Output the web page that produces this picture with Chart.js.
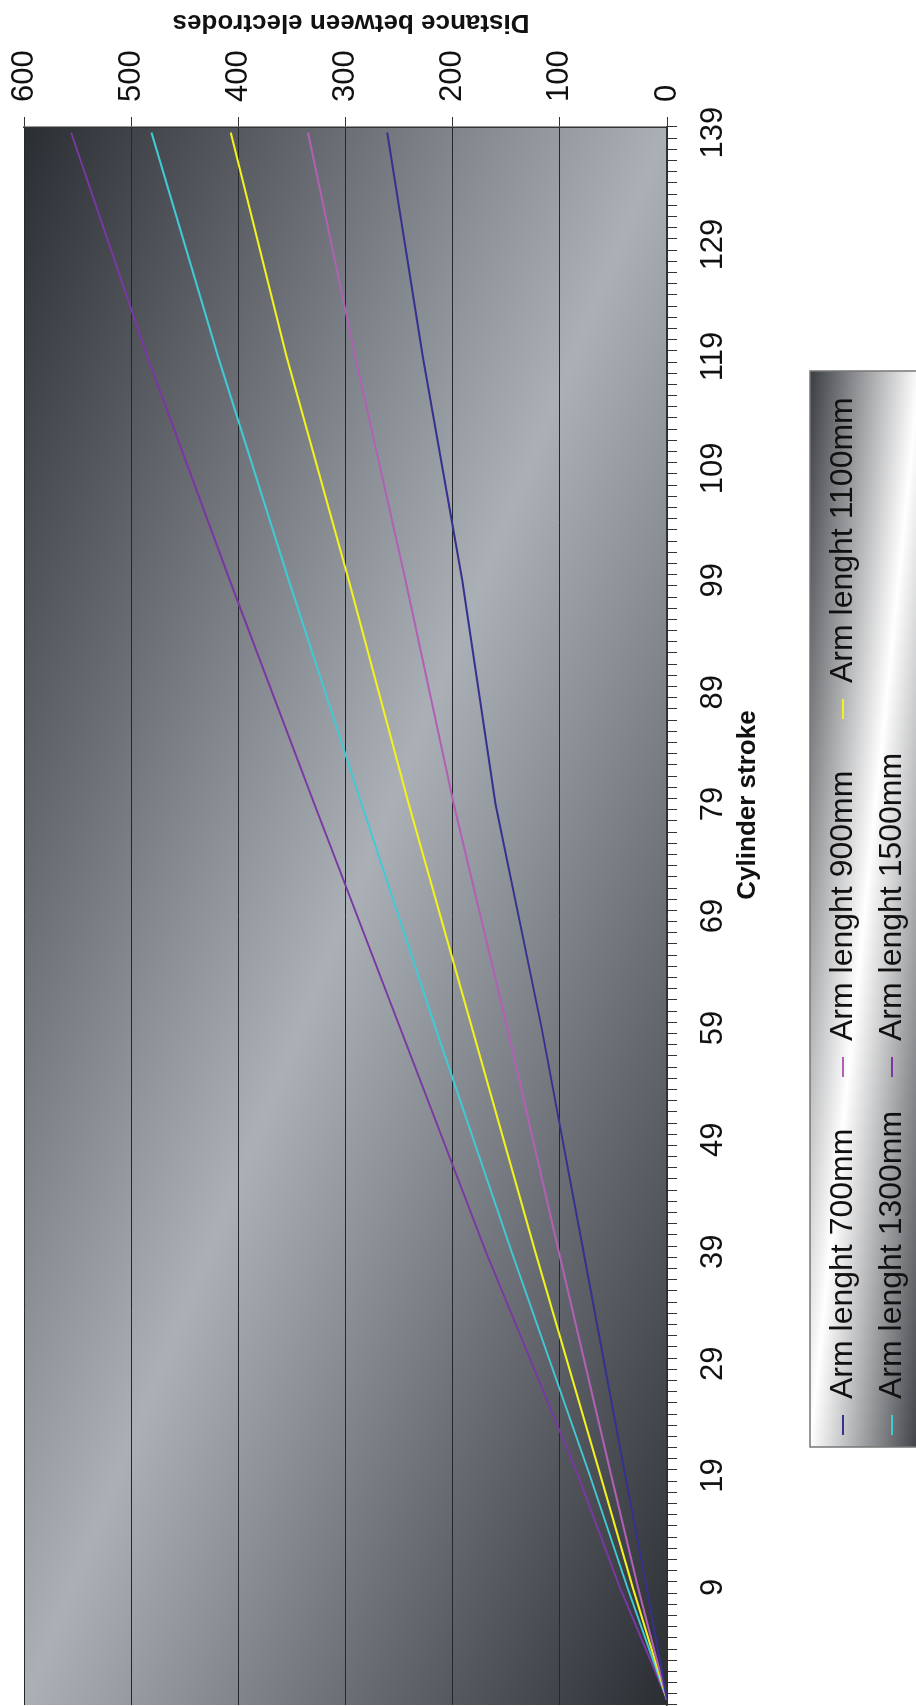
<!DOCTYPE html>
<html>
<head>
<meta charset="utf-8">
<script src="https://cdn.jsdelivr.net/npm/chart.js@4.4.1/dist/chart.umd.min.js"></script>
<style>
  html, body { margin: 0; padding: 0; background: #fff; overflow: hidden; }
  #wrap {
    position: absolute; left: 0; top: 0;
    width: 1706px; height: 916px;
    transform-origin: 0 0;
    transform: translate(0, 1706px) rotate(-90deg);
  }
</style>
</head>
<body>
<div id="wrap"><canvas id="strokeChart" width="1706" height="916"></canvas></div>
<script>
// cylinder stroke positions where the curves were read
var strokes = [-1, 9, 19, 39, 59, 79, 99, 119, 139];
var strokeLabels = [9, 19, 29, 39, 49, 59, 69, 79, 89, 99, 109, 119, 129, 139];
var distanceTicks = [0, 100, 200, 300, 400, 500, 600];

var seriesNames = ['Arm lenght 700mm', 'Arm lenght 900mm', 'Arm lenght 1100mm', 'Arm lenght 1300mm', 'Arm lenght 1500mm'];
var seriesColors = ['#35318f', '#b160b6', '#f2f21e', '#3fcad6', '#7b37a2'];

var arm700  = [0, 19, 39, 78, 117, 160, 191, 228, 261];
var arm900  = [0, 27, 52, 101, 149, 199, 244, 291, 335];
var arm1100 = [0, 32, 62, 123, 182, 241, 297, 355, 407];
var arm1300 = [0, 37, 72, 145, 216, 285, 353, 419, 481];
var arm1500 = [0, 44, 83, 169, 249, 329, 408, 485, 556];

var allSeries = [arm700, arm900, arm1100, arm1300, arm1500];
var FONT = '"Liberation Sans", Arial, sans-serif';

function toPoints(values) {
	var pts = [];
	for (var i = 0; i < strokes.length; i++) {
		pts.push({ x: strokes[i], y: values[i] });
	}
	return pts;
}

// gradient that runs corner to corner in the box's own (normalised) space
function diagFill(ctx, x, y, w, h, dark, light) {
	ctx.save();
	ctx.translate(x, y);
	ctx.scale(w, h);
	var g = ctx.createLinearGradient(1, 0, 0, 1);
	g.addColorStop(0, dark);
	g.addColorStop(0.5, light);
	g.addColorStop(1, dark);
	ctx.fillStyle = g;
	ctx.fillRect(0, 0, 1, 1);
	ctx.restore();
}

var decor = {
	id: 'decor',
	beforeDraw: function(chart) {
		var ctx = chart.ctx, a = chart.chartArea;
		ctx.save();
		ctx.fillStyle = '#fff';
		ctx.fillRect(0, 0, chart.width, chart.height);
		ctx.restore();
		diagFill(ctx, a.left, a.top, a.right - a.left, a.bottom - a.top, '#2a2d32', '#abb0b7');
	},
	afterDraw: function(chart) {
		var ctx = chart.ctx;
		ctx.save();
		ctx.fillStyle = '#111';
		ctx.font = 'bold 26px ' + FONT;
		ctx.textAlign = 'center';
		ctx.textBaseline = 'middle';
		ctx.save();
		ctx.translate(1684, 351);
		ctx.rotate(-Math.PI / 2);
		ctx.fillText('Distance between electrodes', 0, 0);
		ctx.restore();
		ctx.fillText('Cylinder stroke', 901, 748);

		// legend box
		var lx = 259, ly = 810, lw = 1076, lh = 110;
		diagFill(ctx, lx, ly, lw, lh, '#3a3d42', '#ffffff');
		ctx.strokeStyle = '#777';
		ctx.lineWidth = 1.5;
		ctx.strokeRect(lx, ly, lw, lh);

		var colX = [271, 629, 987];
		var rowY = [843, 892];
		ctx.font = '32px ' + FONT;
		ctx.textAlign = 'left';
		chart.data.datasets.forEach(function(ds, i) {
			var cx = colX[i % 3], cy = rowY[Math.floor(i / 3)];
			ctx.strokeStyle = ds.borderColor;
			ctx.lineWidth = 2;
			ctx.beginPath();
			ctx.moveTo(cx, cy);
			ctx.lineTo(cx + 20, cy);
			ctx.stroke();
			ctx.fillStyle = '#111';
			ctx.fillText(ds.label, cx + 36, cy);
		});
		ctx.restore();
	}
};

var datasets = [];
for (var i = 0; i < allSeries.length; i++) {
	datasets.push({
		label: seriesNames[i],
		data: toPoints(allSeries[i]),
		borderColor: seriesColors[i],
		backgroundColor: seriesColors[i],
		borderWidth: 2,
		pointRadius: 0,
		tension: 0,
		fill: false
	});
}

new Chart(document.getElementById('strokeChart').getContext('2d'), {
	type: 'line',
	data: { datasets: datasets },
	options: {
		responsive: false,
		animation: false,
		devicePixelRatio: 1,
		layout: { padding: { left: 1, top: 24, right: 0, bottom: 0 } },
		plugins: { legend: { display: false }, tooltip: { enabled: false } },
		scales: {
			x: {
				type: 'linear',
				position: 'bottom',
				min: -1.5,
				max: 139.5,
				afterBuildTicks: function(scale) {
					var t = [];
					for (var k = -1.5; k <= 139.5; k += 1) t.push(k);
					strokeLabels.forEach(function(v) { t.push(v); });
					t.sort(function(a, b) { return a - b; });
					scale.ticks = t.map(function(v) { return { value: v }; });
				},
				afterFit: function(scale) {
					scale.height = 249;
					scale.paddingLeft = 0;
					scale.paddingRight = 0;
				},
				grid: {
					drawOnChartArea: false,
					tickLength: 10,
					tickWidth: 1,
					tickColor: function(c) {
						return (c.tick && strokeLabels.indexOf(c.tick.value) >= 0) ? 'rgba(0,0,0,0)' : '#333';
					}
				},
				border: { color: '#333', width: 1.5 },
				ticks: {
					autoSkip: false,
					maxRotation: 0,
					minRotation: 0,
					padding: 18,
					color: '#111',
					font: { family: FONT, size: 31 },
					callback: function(v) { return strokeLabels.indexOf(v) >= 0 ? String(v) : ''; }
				}
			},
			y: {
				position: 'right',
				min: 0,
				max: 600,
				afterBuildTicks: function(scale) {
					scale.ticks = distanceTicks.map(function(v) { return { value: v }; });
				},
				afterFit: function(scale) {
					scale.width = 127;
					scale.paddingTop = 0;
					scale.paddingBottom = 0;
				},
				grid: { color: '#25272b', lineWidth: 1, tickLength: 10, tickColor: '#333' },
				border: { color: '#333', width: 1.5 },
				ticks: {
					padding: 15,
					color: '#111',
					font: { family: FONT, size: 31 }
				}
			}
		}
	},
	plugins: [decor]
});
</script>
</body>
</html>
